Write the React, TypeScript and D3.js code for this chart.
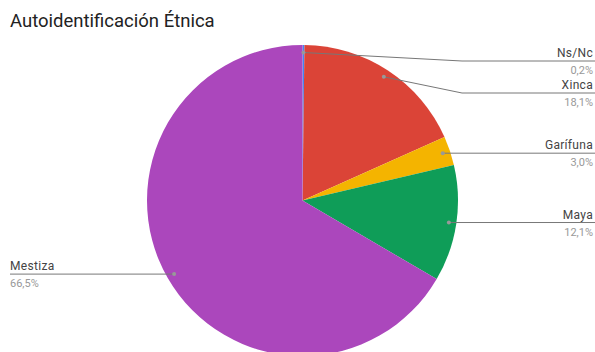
import React from "react";
import * as d3 from "d3";

const categories = ["Ns/Nc", "Xinca", "Garífuna", "Maya", "Mestiza"];
const values = [0.2, 18.1, 3.0, 12.1, 66.5];
const valueLabels = ["0,2%", "18,1%", "3,0%", "12,1%", "66,5%"];
const colors = ["#4285F4", "#DB4437", "#F4B400", "#0F9D58", "#AB47BC"];
const title = "Autoidentificación Étnica";

const W = 595;
const H = 352;
const CX = 302.5;
const CY = 200.5;
const R = 155.5;
const DOT_R = 148;

export default function App() {
  const pie = d3.pie<number>().sort(null).value((d) => d);
  const arcs = pie(values);
  const arc = d3.arc<d3.PieArcDatum<number>>().innerRadius(0).outerRadius(R);
  const dotArc = d3.arc<d3.PieArcDatum<number>>().innerRadius(DOT_R).outerRadius(DOT_R);

  const items = arcs.map((a, i) => {
    const [dx, dy] = dotArc.centroid(a);
    const mid = (a.startAngle + a.endAngle) / 2;
    return { i, dx: CX + dx, dy: CY + dy, right: mid < Math.PI, ly: 0 };
  });
  const right = items.filter((d) => d.right).sort((a, b) => a.dy - b.dy);
  let prev = -Infinity;
  right.forEach((d) => {
    d.ly = Math.max(d.dy, prev + 32, 61);
    prev = d.ly;
  });
  items.filter((d) => !d.right).forEach((d) => (d.ly = d.dy));

  const elbowX = 462;

  return (
    <div style={{ position: "fixed", left: 0, top: 0, width: W, height: H, overflow: "hidden", background: "#fff" }}>
      <svg width={W} height={H} style={{ display: "block", fontFamily: "Roboto" }}>
        <text x={10} y={27} fontSize={18.5} fill="#222">
          {title}
        </text>
        <g transform={`translate(${CX},${CY})`}>
          {arcs.map((a, i) => (
            <path key={i} d={arc(a) || ""} fill={colors[i]} />
          ))}
        </g>
        {items.map((d) => {
          const i = d.i;
          if (d.right) {
            const pts =
              Math.abs(d.ly - d.dy) > 0.5
                ? `${d.dx},${d.dy} ${elbowX},${d.ly} ${W},${d.ly}`
                : `${d.dx},${d.dy} ${W},${d.ly}`;
            return (
              <g key={i}>
                <polyline points={pts} fill="none" stroke="#777" strokeWidth={1} />
                <circle cx={d.dx} cy={d.dy} r={2} fill="#999" />
                <text x={593} y={d.ly - 4} textAnchor="end" fontSize={12} fill="#444" letterSpacing={0.3}>
                  {categories[i]}
                </text>
                <text x={593} y={d.ly + 13} textAnchor="end" fontSize={11} fill="#999">
                  {valueLabels[i]}
                </text>
              </g>
            );
          }
          return (
            <g key={i}>
              <polyline points={`${d.dx},${d.dy} 10,${d.ly}`} fill="none" stroke="#777" strokeWidth={1} />
              <circle cx={d.dx} cy={d.dy} r={2} fill="#999" />
              <text x={10} y={d.ly - 4} fontSize={12} fill="#444" letterSpacing={0.3}>
                {categories[i]}
              </text>
              <text x={10} y={d.ly + 13} fontSize={11} fill="#999">
                {valueLabels[i]}
              </text>
            </g>
          );
        })}
      </svg>
    </div>
  );
}
